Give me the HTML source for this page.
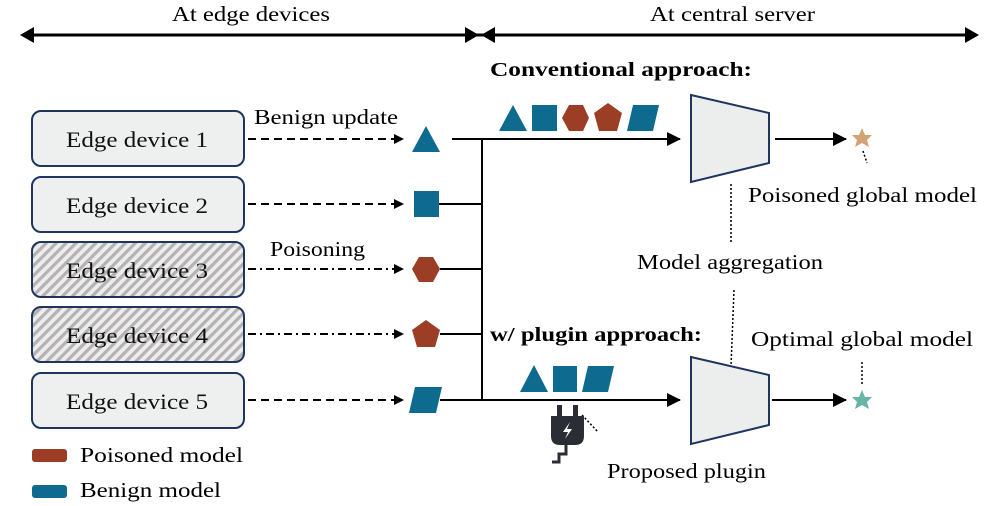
<!DOCTYPE html>
<html><head><meta charset="utf-8"><style>
html,body{margin:0;padding:0;background:#fff;}
svg{display:block;font-family:"Liberation Serif",serif;}
</style></head><body>
<svg width="997" height="506" viewBox="0 0 997 506" xmlns="http://www.w3.org/2000/svg">
<defs>
<pattern id="hatch" width="7" height="7" patternUnits="userSpaceOnUse" patternTransform="rotate(45)">
<rect width="7" height="7" fill="#ededed"/>
<rect width="3.2" height="7" fill="#b5b2b2"/>
</pattern>
<marker id="ah" markerWidth="10" markerHeight="10" refX="9" refY="5" orient="auto" markerUnits="userSpaceOnUse">
<path d="M0,0 L10,5 L0,10 z" fill="#000"/></marker>
<marker id="ab" markerWidth="14" markerHeight="14" refX="13" refY="7" orient="auto" markerUnits="userSpaceOnUse">
<path d="M0,0 L14,7 L0,14 z" fill="#000"/></marker>
</defs>

<!-- header -->
<text x="172" y="21" font-size="21" textLength="158" lengthAdjust="spacingAndGlyphs">At edge devices</text>
<text x="650" y="21" font-size="21" textLength="165" lengthAdjust="spacingAndGlyphs">At central server</text>
<line x1="24" y1="35" x2="975" y2="35" stroke="#000" stroke-width="3"/>
<path d="M20,35 L34,27 L34,43z M479,35 L465,27 L465,43z M481,35 L495,27 L495,43z M979,35 L965,27 L965,43z" fill="#000"/>

<text x="490" y="76" font-size="20" font-weight="bold" textLength="262" lengthAdjust="spacingAndGlyphs">Conventional approach:</text>
<text x="490" y="341" font-size="20" font-weight="bold" textLength="212" lengthAdjust="spacingAndGlyphs">w/ plugin approach:</text>

<!-- boxes -->
<g stroke="#1f3560" stroke-width="2">
<rect x="32" y="111" width="212" height="55" rx="9" fill="#eef0f0"/>
<rect x="32" y="177" width="212" height="55" rx="9" fill="#eef0f0"/>
<rect x="32" y="242" width="212" height="55" rx="9" fill="url(#hatch)"/>
<rect x="32" y="307" width="212" height="55" rx="9" fill="url(#hatch)"/>
<rect x="32" y="373" width="212" height="55" rx="9" fill="#eef0f0"/>
</g>
<g font-size="22" fill="#111">
<text x="66" y="147" textLength="142" lengthAdjust="spacingAndGlyphs">Edge device 1</text>
<text x="66" y="213" textLength="142" lengthAdjust="spacingAndGlyphs">Edge device 2</text>
<text x="66" y="278" textLength="142" lengthAdjust="spacingAndGlyphs">Edge device 3</text>
<text x="66" y="343" textLength="142" lengthAdjust="spacingAndGlyphs">Edge device 4</text>
<text x="66" y="409" textLength="142" lengthAdjust="spacingAndGlyphs">Edge device 5</text>
</g>
<text x="254" y="124" font-size="21" textLength="144" lengthAdjust="spacingAndGlyphs">Benign update</text>
<text x="270" y="256" font-size="21" textLength="95" lengthAdjust="spacingAndGlyphs">Poisoning</text>

<!-- dashed arrows -->
<g stroke="#000" stroke-width="2" marker-end="url(#ah)">
<line x1="248" y1="139" x2="403" y2="139" stroke-dasharray="8,5"/>
<line x1="248" y1="204" x2="403" y2="204" stroke-dasharray="8,5"/>
<line x1="248" y1="269" x2="403" y2="269" stroke-dasharray="8,4,2,4"/>
<line x1="248" y1="334" x2="403" y2="334" stroke-dasharray="8,4,2,4"/>
<line x1="248" y1="400" x2="403" y2="400" stroke-dasharray="8,5"/>
</g>

<!-- shapes column -->
<polygon points="426,126 440,152 412,152" fill="#0e6a8f"/>
<rect x="414" y="191" width="25" height="26" fill="#0e6a8f"/>
<polygon points="419,257 433,257 440,269 433,282 419,282 412,269" fill="#9c3d25"/>
<polygon points="426,320 440,330 435,347 417,347 412,330" fill="#9c3d25"/>
<polygon points="415,387 442,387 436,413 409,413" fill="#0e6a8f"/>

<!-- bus lines -->
<g stroke="#000" stroke-width="2" fill="none">
<line x1="452" y1="139" x2="482" y2="139"/>
<line x1="439" y1="204" x2="482" y2="204"/>
<line x1="440" y1="269" x2="482" y2="269"/>
<line x1="440" y1="334" x2="482" y2="334"/>
<line x1="440" y1="400" x2="482" y2="400"/>
<line x1="482" y1="138" x2="482" y2="401"/>
<line x1="482" y1="139" x2="680" y2="139" marker-end="url(#ab)"/>
<line x1="482" y1="400" x2="680" y2="400" marker-end="url(#ab)"/>
<line x1="775" y1="139" x2="846" y2="139" marker-end="url(#ab)"/>
<line x1="772" y1="400" x2="846" y2="400" marker-end="url(#ab)"/>
</g>

<!-- top shapes -->
<polygon points="513,105 527,131 499,131" fill="#0e6a8f"/>
<rect x="532" y="105" width="25" height="26" fill="#0e6a8f"/>
<polygon points="569,105 583,105 589,118 583,131 569,131 562,118" fill="#9c3d25"/>
<polygon points="608,103 622,113 617,131 599,131 594,113" fill="#9c3d25"/>
<polygon points="633,105 659,105 653,131 627,131" fill="#0e6a8f"/>

<!-- bottom shapes -->
<polygon points="534,365 548,392 520,392" fill="#0e6a8f"/>
<rect x="553" y="366" width="24" height="26" fill="#0e6a8f"/>
<polygon points="588,366 614,366 608,392 582,392" fill="#0e6a8f"/>

<!-- trapezoids -->
<polygon points="691,95 769,113 769,163 691,182" fill="#eceeee" stroke="#1f3560" stroke-width="2"/>
<polygon points="691,357 769,375 769,425 691,444" fill="#eceeee" stroke="#1f3560" stroke-width="2"/>

<!-- stars -->
<polygon points="862,128 865,135 872,135 867,140 869,147 862,143 855,147 857,140 852,135 859,135" fill="#d4a373"/>
<polygon points="862,390 865,397 872,397 867,402 869,409 862,405 855,409 857,402 852,397 859,397" fill="#66b5a6"/>

<!-- dotted -->
<g stroke="#000" stroke-width="1.5" stroke-dasharray="2,2" fill="none">
<line x1="863" y1="151" x2="867" y2="163"/>
<line x1="731" y1="184" x2="731" y2="242"/>
<line x1="734" y1="290" x2="731" y2="366"/>
<line x1="862" y1="362" x2="862" y2="385"/>
<line x1="582" y1="415" x2="598" y2="432"/>
</g>

<text x="748" y="202" font-size="21" textLength="229" lengthAdjust="spacingAndGlyphs">Poisoned global model</text>
<text x="637" y="269" font-size="21" textLength="186" lengthAdjust="spacingAndGlyphs">Model aggregation</text>
<text x="751" y="346" font-size="21" textLength="222" lengthAdjust="spacingAndGlyphs">Optimal global model</text>
<text x="607" y="478" font-size="21" textLength="159" lengthAdjust="spacingAndGlyphs">Proposed plugin</text>

<!-- plug -->
<rect x="557" y="405" width="5" height="12" fill="#2a2d34"/>
<rect x="573" y="405" width="5" height="12" fill="#2a2d34"/>
<path d="M551,416 H584 V436 Q584,445 575,445 H560 Q551,445 551,436 Z" fill="#2a2d34"/>
<path d="M570,422 L563,432 L568,432 L565,439 L572,429 L567,429 Z" fill="#fff"/>
<path d="M566,445 V454 H559 V462 H552" stroke="#2a2d34" stroke-width="3" fill="none"/>

<!-- legend -->
<rect x="32" y="449" width="35" height="13" rx="3" fill="#9c3d25"/>
<text x="80" y="462" font-size="21" textLength="163" lengthAdjust="spacingAndGlyphs">Poisoned model</text>
<rect x="32" y="485" width="35" height="13" rx="3" fill="#0e6a8f"/>
<text x="80" y="497" font-size="21" textLength="141" lengthAdjust="spacingAndGlyphs">Benign model</text>
</svg>
</body></html>
